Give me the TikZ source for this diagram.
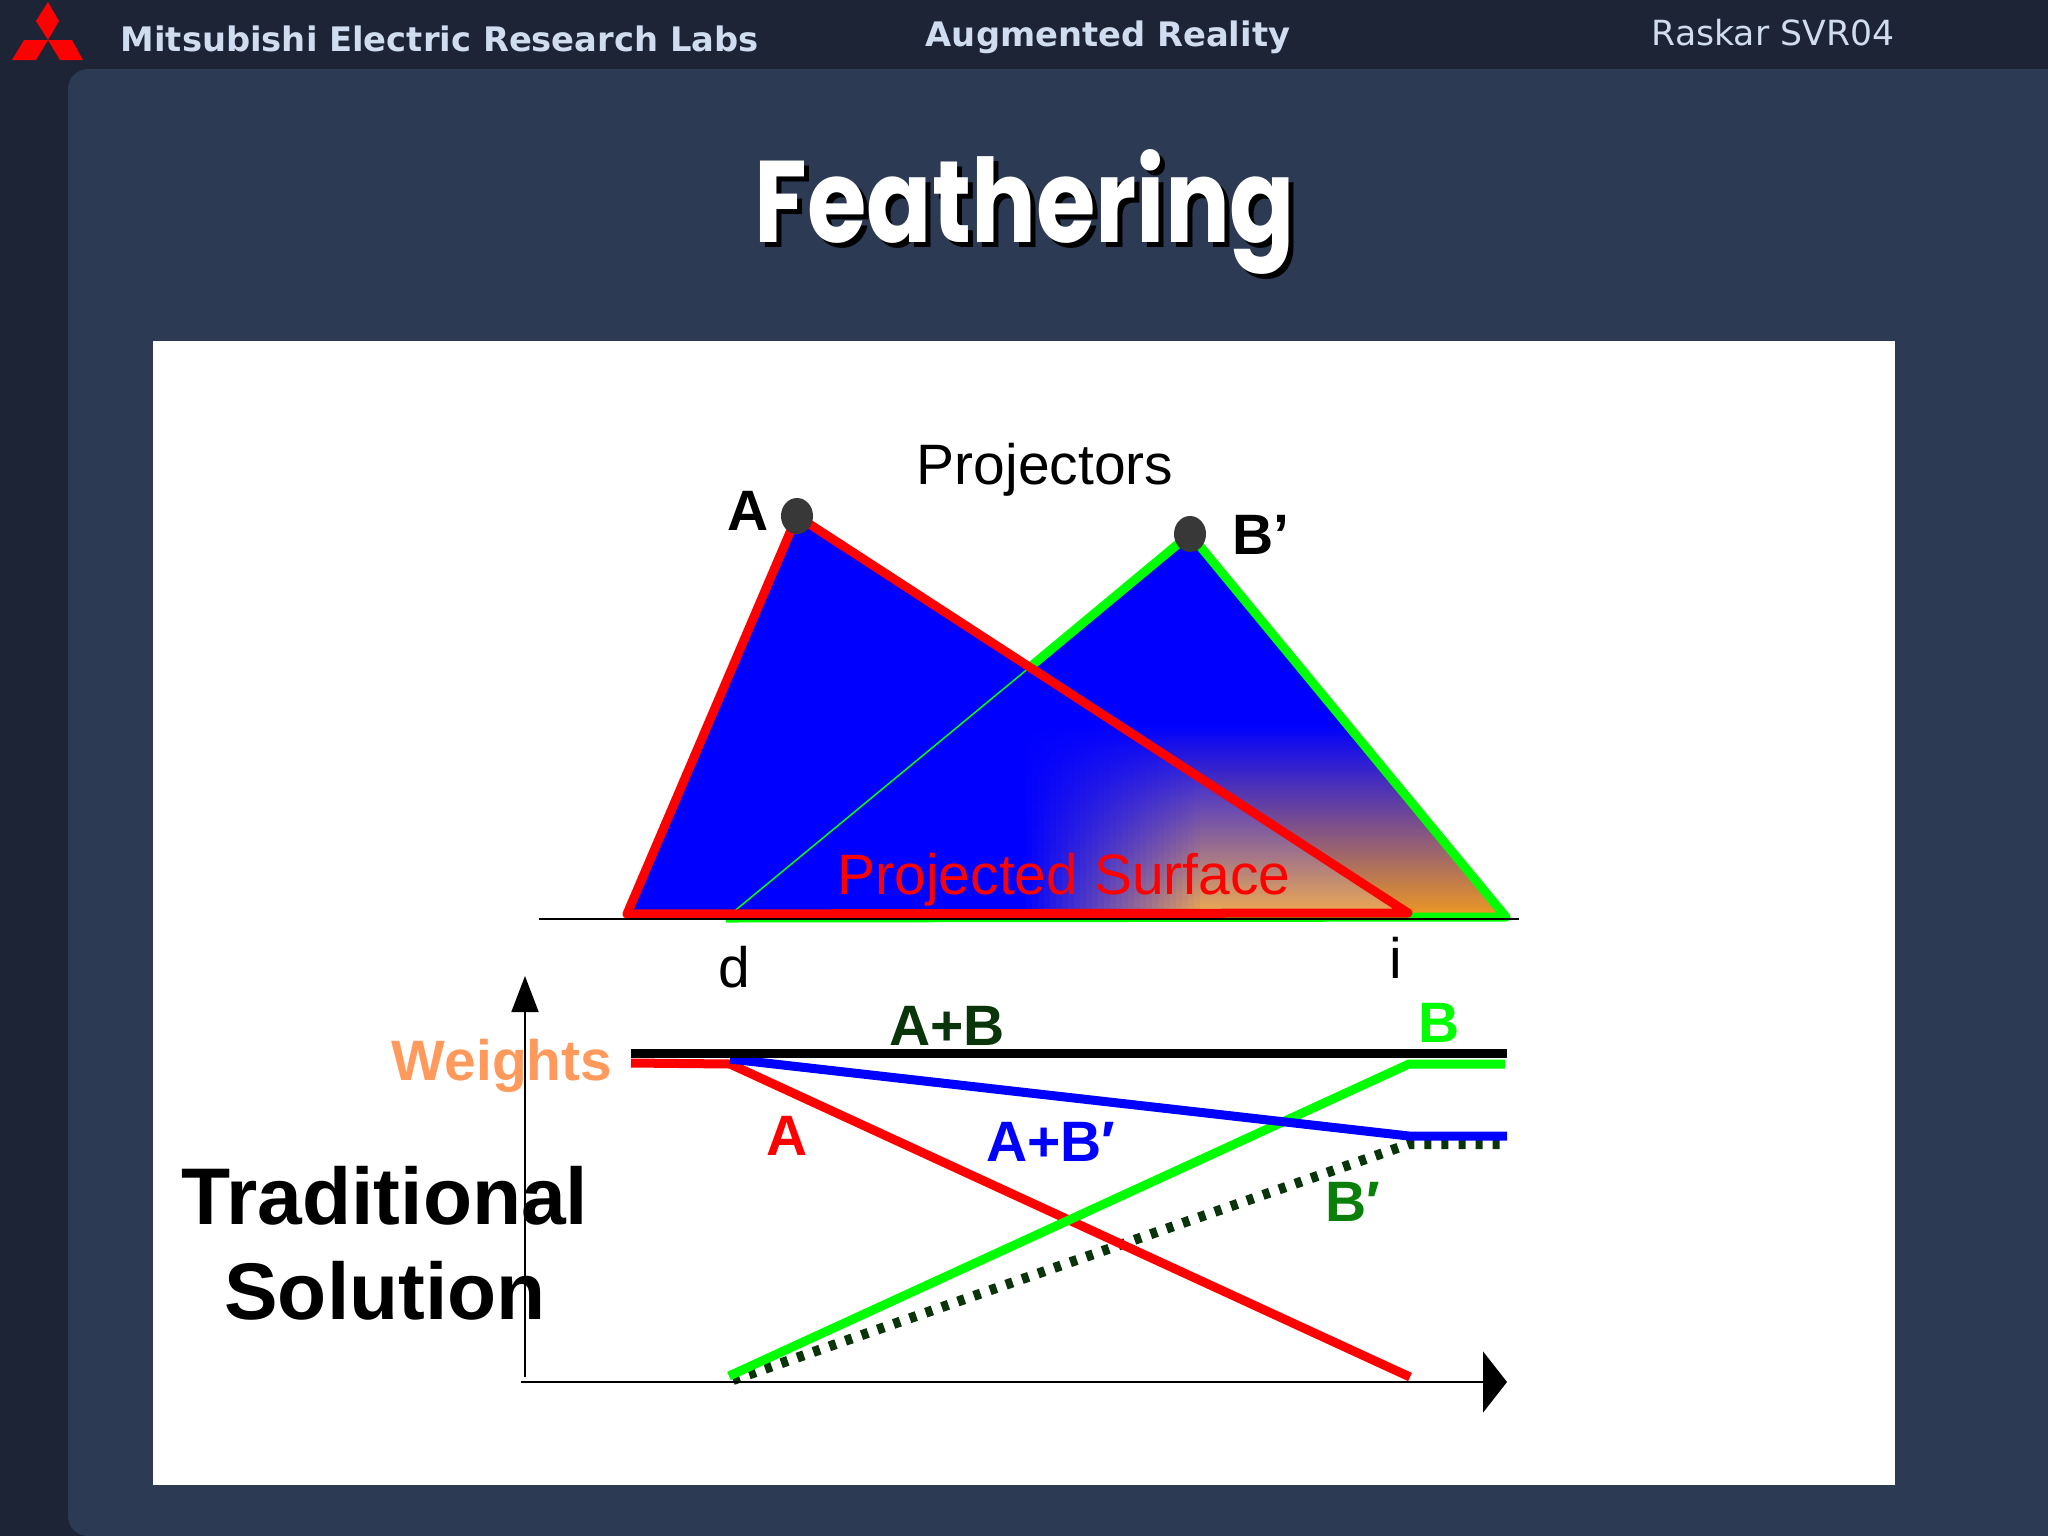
\documentclass[tikz,border=0pt]{standalone}
\usepackage{fontspec}
\setmainfont{Liberation Sans}
\newfontfamily\headfont{DejaVu Sans}
\newfontfamily\titlefont{Poppins}
\usetikzlibrary{arrows.meta, shapes.geometric}

\definecolor{barcol}{RGB}{28,36,54}
\definecolor{panelcol}{RGB}{44,58,84}
\definecolor{headtext}{RGB}{208,220,240}
\definecolor{beamgreen}{RGB}{0,255,0}
\definecolor{darkgreen}{RGB}{10,52,10}
\definecolor{midgreen}{RGB}{10,128,10}
\definecolor{peach}{RGB}{255,154,92}
\definecolor{warmA}{RGB}{240,172,80}
\definecolor{warmB}{RGB}{240,154,32}

\begin{document}
\begin{tikzpicture}[
    x=0.01cm, y=-0.01cm,
    % --- Style Definitions ---
    headtxt/.style={font=\headfont\bfseries\fontsize{9.6}{11}\selectfont, text=headtext, inner sep=0pt},
    label/.style={font=\bfseries\fontsize{16.2}{19}\selectfont, inner sep=0pt, text=#1},
    plain/.style={font=\fontsize{16.2}{19}\selectfont, inner sep=0pt, text=#1},
    titletxt/.style={font=\titlefont\bfseries\fontsize{33}{40}\selectfont, inner sep=0pt, text=#1},
    thickline/.style={line width=0.09cm, draw=#1, line join=round},
    axis/.style={line width=0.018cm, draw=black},
    projector/.style={ellipse, fill=black!78, minimum width=0.32cm, minimum height=0.36cm, inner sep=0pt}
]
\useasboundingbox (0,0) rectangle (2048,1536);

% ================= Slide background =================
\fill[barcol] (0,0) rectangle (2048,1536);
\begin{scope}
    \clip (0,0) rectangle (2048,1536);
    \fill[panelcol, rounded corners=0.2cm] (68,69) rectangle (2100,1536);
\end{scope}
\fill[white] (153,341) rectangle (1895,1485);

% ================= Header =================
\fill[red] (48,2) -- (59,21) -- (48,40) -- (36,21) -- cycle;
\fill[red] (48,40) -- (24,40) -- (12,60) -- (36,60) -- cycle;
\fill[red] (48,40) -- (72,40) -- (83,60) -- (60,60) -- cycle;
\node[headtxt, anchor=west] (labs) at (120,39) {Mitsubishi Electric Research Labs};
\node[headtxt] (topic) at (1108,37) {Augmented Reality};
\node[headtxt, font=\headfont\fontsize{9.85}{11}\selectfont] (talk) at (1773,33) {Raskar SVR04};
\node[titletxt=black] (shadow) at (1030,217) {\scalebox{0.83}[1]{Feathering}};
\node[titletxt=white] (title) at (1025,212) {\scalebox{0.83}[1]{Feathering}};

% ================= Beam corners =================
\coordinate (a0) at (797,516);
\coordinate (a1) at (627,914);
\coordinate (a2) at (1408,913);
\coordinate (b0) at (1190,534);
\coordinate (b1) at (726,918);
\coordinate (b2) at (1506,917);
\coordinate (cross) at (1030,667);

% ================= Beams =================
\fill[blue] (a0) -- (a1) -- (a2) -- cycle;
\fill[blue] (b0) -- (b1) -- (b2) -- cycle;

% Overlap only: strips get warmer to the right
\begin{scope}
    \clip (cross) -- (b1) -- (a2) -- cycle;
    \foreach \sx in {0,6,...,174} {
        \pgfmathsetmacro{\warm}{\sx/1.8}
        \pgfmathsetmacro{\warmmid}{0.62*\warm}
        \shade[top color=blue, middle color=warmA!\warmmid!blue, bottom color=warmA!\warm!blue]
            (1020+\sx,725) rectangle (1027+\sx,916);
    }
    \shade[top color=blue, middle color=warmA!62!blue, bottom color=warmA] (1200,725) rectangle (1420,916);
\end{scope}

% Beam B only
\begin{scope}
    \clip (b0) -- (b2) -- (a2) -- (cross) -- cycle;
    \shade[top color=blue, bottom color=warmB] (1000,725) rectangle (1520,918);
\end{scope}

\draw[beamgreen, line width=0.015cm] (b1) -- (cross);
\draw[thickline=beamgreen] (cross) -- (b0) -- (b2) -- (b1);
\draw[thickline=red] (a0) -- (a1) -- (a2) -- cycle;
\coordinate (floorL) at (539,919);
\coordinate (floorR) at (1519,919);
\draw[black, line width=0.02cm] (floorL) -- (floorR);
\node[projector] (projA) at (a0) {};
\node[projector] (projB) at (b0) {};

\node[plain=black] (projectors) at (1045,470) {Projectors};
\node[label=black] (nameA) at (748,511) {A};
\node[label=black] (nameB) at (1261,535) {B’};
\node[plain=red] (surface) at (1064,880) {Projected Surface};
\node[plain=black] (markD) at (734,967) {d};
\node[plain=black] (markI) at (1396,958) {i};

% ================= Weight curves =================
\coordinate (sumL) at (631,1053);
\coordinate (sumR) at (1507,1053);
\coordinate (wa0) at (631,1063);
\coordinate (wa1) at (730,1064);
\coordinate (wa2) at (1410,1377);
\coordinate (wb0) at (729,1376);
\coordinate (wb1) at (1409,1064);
\coordinate (wb2) at (1505,1064);
\coordinate (wc0) at (730,1059);
\coordinate (wc1) at (1409,1136);
\coordinate (wc2) at (1507,1136);
\coordinate (wd0) at (733,1380);
\coordinate (wd1) at (1409,1144);
\coordinate (wd2) at (1507,1144);

\draw[thickline=darkgreen, line width=0.1cm, dash pattern=on 0.07cm off 0.1cm] (wd0) -- (wd1) -- (wd2);
\draw[thickline=red] (wa0) -- (wa1) -- (wa2);
\draw[thickline=beamgreen] (wb0) -- (wb1) -- (wb2);
\draw[thickline=blue] (wc0) -- (wc1) -- (wc2);
\draw[thickline=black] (sumL) -- (sumR);

\node[label=peach] (weights) at (502,1066) {Weights};
\node[label=darkgreen] (sumAB) at (947,1026) {A+B};
\node[label=beamgreen] (curveB) at (1439,1023) {B};
\node[label=red] (curveA) at (787,1136) {A};
\node[label=blue] (curveC) at (1051,1142) {A+B′};
\node[label=midgreen] (curveD) at (1353,1202) {B′};
\node[font=\bfseries\fontsize{22.85}{27}\selectfont, align=center, inner sep=0pt] (method) at (385,1243) {Traditional\\Solution};

% ================= Axes =================
\coordinate (origin) at (525,1377);
\coordinate (topY) at (525,976);
\coordinate (startX) at (521,1382);
\coordinate (endX) at (1507,1382);
\draw[axis, -{Triangle[length=0.36cm, width=0.27cm]}] (origin) -- (topY);
\draw[axis, -{Triangle[length=0.24cm, width=0.61cm]}] (startX) -- (endX);

\end{tikzpicture}
\end{document}
